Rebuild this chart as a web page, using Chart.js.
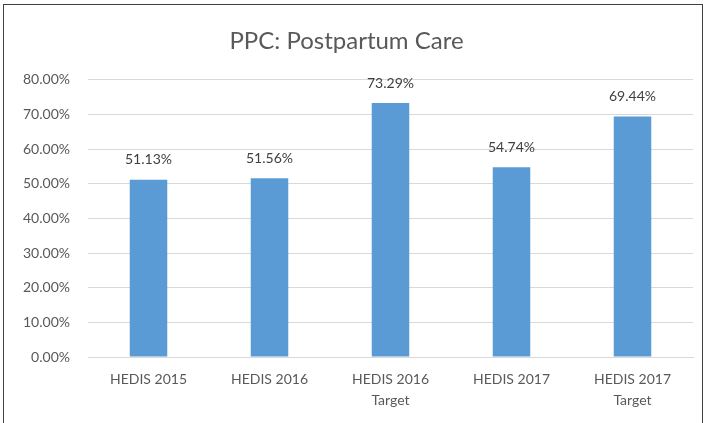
<!DOCTYPE html>
<html>
<head>
<meta charset="utf-8">
<script src="https://cdn.jsdelivr.net/npm/chart.js@4"></script>
<style>
html,body{margin:0;padding:0;background:#fff;overflow:hidden;}
#wrap{position:absolute;left:0;top:0;width:709px;height:423px;}
#frame{position:absolute;left:3px;top:4px;width:700px;height:440px;border:1.5px solid #404040;box-sizing:border-box;pointer-events:none;}
</style>
</head>
<body>
<div id="wrap"><canvas id="c" width="709" height="423"></canvas></div>
<div id="frame"></div>
<script>
const categories = [["HEDIS 2015"], ["HEDIS 2016"], ["HEDIS 2016", "Target"], ["HEDIS 2017"], ["HEDIS 2017", "Target"]];
const values = [51.13, 51.56, 73.29, 54.74, 69.44];
const yTicks = [0, 10, 20, 30, 40, 50, 60, 70, 80];
const FONT = "Lato, 'Open Sans', sans-serif";

const labelPlugin = {
  id: 'barLabels',
  afterDatasetsDraw(chart) {
    const ctx = chart.ctx;
    const meta = chart.getDatasetMeta(0);
    ctx.save();
    ctx.font = "14px " + FONT;
    ctx.fillStyle = "#404040";
    ctx.textAlign = "center";
    ctx.textBaseline = "bottom";
    meta.data.forEach((bar, i) => {
      ctx.fillText(values[i].toFixed(2) + "%", bar.x, bar.y - 13);
    });
    ctx.restore();
  }
};

new Chart(document.getElementById('c'), {
  type: 'bar',
  data: {
    labels: categories,
    datasets: [{
      data: values,
      backgroundColor: '#5B9BD5',
      borderWidth: 0,
      categoryPercentage: 1.0,
      barPercentage: 0.31
    }]
  },
  options: {
    responsive: false,
    animation: false,
    devicePixelRatio: 1,
    layout: { padding: { left: 0, right: 16, top: 27, bottom: 0 } },
    plugins: {
      legend: { display: false },
      tooltip: { enabled: false },
      title: {
        display: true,
        text: 'PPC: Postpartum Care',
        color: '#595959',
        font: { family: FONT, size: 24, weight: 'normal' },
        padding: { top: 0, bottom: 24 }
      }
    },
    scales: {
      x: {
        grid: { display: false, drawTicks: false },
        border: { display: true, color: '#d9d9d9', width: 1 },
        ticks: { color: '#595959', font: { family: FONT, size: 14, lineHeight: 1.5 }, padding: 12, maxRotation: 0, autoSkip: false }
      },
      y: {
        min: 0, max: 80,
        afterBuildTicks(scale) { scale.ticks = yTicks.map(v => ({ value: v })); },
        afterFit(scale) { scale.width = 88; },
        grid: { color: '#d9d9d9', drawTicks: false },
        border: { display: false },
        ticks: {
          color: '#595959',
          font: { family: FONT, size: 14 },
          padding: 18,
          callback: v => v.toFixed(2) + '%'
        }
      }
    }
  },
  plugins: [labelPlugin]
});
</script>
</body>
</html>
